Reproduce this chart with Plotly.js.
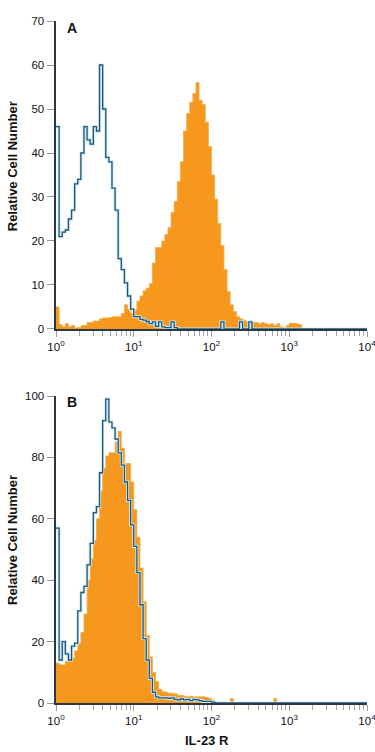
<!DOCTYPE html>
<html>
<head>
<meta charset="utf-8">
<script src="https://cdn.plot.ly/plotly-3.0.1.min.js"></script>
<style>
html,body{margin:0;padding:0;background:#fff;}
#chart{width:375px;height:752px;}
</style>
</head>
<body>
<div id="chart"></div>
<script>
// Histogram bins: 100 channels over 4 log decades (10^0 .. 10^4)
const binsPerDecade = 25;
const decades = 4;

// Panel A – isotype (blue outline) and IL-23 R stained (orange filled)
const isotypeA = [
  46, 21, 22, 22.5, 25, 27, 33, 34, 40, 46,
  43, 42, 46, 45, 60, 50, 39, 38, 32, 27,
  16, 13.5, 10.5, 7.5, 4.5, 2.8, 2.8, 2.2, 2, 1.7,
  1.2, 1.6, 0.6, 1.6, 0.5, 0.3, 0.3, 1.6, 0.3, 0,
  0, 0, 0, 0, 0, 0, 0, 0, 0, 0,
  0, 0, 0, 1.6, 0, 0, 0, 0, 0, 1.6,
  0, 0, 1.6, 0, 0, 0, 0, 0, 0, 0,
  0, 0, 0, 0, 0, 0, 0, 0, 0, 0,
  0, 0, 0, 0, 0, 0, 0, 0, 0, 0,
  0, 0, 0, 0, 0, 0, 0, 0, 0, 0
];
const stainedA = [
  5, 1.0, 0.5, 1.2, 0.5, 0.8, 0.3, 0.3, 0.8, 0.8,
  1.5, 1.5, 1.8, 1.8, 2.3, 2.5, 2.5, 2.6, 2.8, 2.8,
  2.8, 3.5, 5.5, 4.5, 3.6, 4.3, 6.3, 7.5, 8.7, 9.3,
  10.3, 15, 18.5, 18.5, 20, 21.5, 23, 26.5, 29, 33.5,
  38, 45, 49, 51.5, 53.5, 56, 52, 51, 47, 41.5,
  35, 29.5, 24, 19, 13.5, 8.5, 5.5, 4, 2.8, 2.3,
  2, 1.7, 1.6, 1.5, 1.5, 1.2, 1.5, 1.2, 1.0, 1.2,
  0.8, 1.2, 0.5, 0.3, 0.8, 1.3, 1.3, 1.2, 1.0, 0,
  0, 0, 0, 0, 0, 0, 0, 0, 0, 0,
  0, 0, 0, 0, 0, 0, 0, 0, 0, 0
];

// Panel B
const isotypeB = [
  57, 14, 20, 16, 14, 18.5, 19.5, 30, 36, 38,
  45, 52, 62, 64, 75, 92, 99, 91.5, 89.6, 86,
  81.5, 77.5, 72, 66, 58, 51, 42.5, 32, 21, 14,
  8, 3.5, 2, 1.7, 1.7, 1.7, 1.5, 1.7, 1.2, 1.0,
  1.3, 1.0, 1.2, 0.8, 1.2, 1.0, 0.8, 0.5, 0.5, 0.5,
  0.3, 0, 0, 0, 0, 0, 0, 0, 0, 0,
  0, 0, 0, 0, 0, 0, 0, 0, 0, 0,
  0, 0, 0, 0, 0, 0, 0, 0, 0, 0,
  0, 0, 0, 0, 0, 0, 0, 0, 0, 0,
  0, 0, 0, 0, 0, 0, 0, 0, 0, 0
];
const stainedB = [
  13, 12.5, 12.4, 13.5, 14, 14.6, 17, 19.5, 23, 29,
  40, 47, 53, 60, 69, 76.5, 80.5, 81.5, 81.5, 85,
  88.5, 83, 78, 78, 72, 63, 54, 44, 33, 22,
  15, 10, 7, 4.5, 3.7, 3.5, 3.2, 3.2, 3.0, 2.5,
  2.5, 2.2, 2.0, 2.2, 2.0, 2.0, 2.0, 2.0, 1.8, 1.5,
  1.0, 0, 0, 0, 0, 0, 1.5, 0, 0, 0,
  0, 0, 0, 0, 0, 0, 0, 0, 0, 0,
  1.5, 0, 0, 0, 0, 0, 0, 0, 0, 0,
  0, 0, 0, 0, 0, 0, 0, 0, 0, 0,
  0, 0, 0, 0, 0, 0, 0, 0, 0, 0
];

const decadeLabels = ['10<sup>0</sup>', '10<sup>1</sup>', '10<sup>2</sup>', '10<sup>3</sup>', '10<sup>4</sup>'];
const yTicksA = [0, 10, 20, 30, 40, 50, 60, 70];
const yTicksB = [0, 20, 40, 60, 80, 100];
const panelLabels = ['A', 'B'];
const xTitle = 'IL-23 R';
const yTitle = 'Relative Cell Number';

// bin edges on the log scale
const nBins = binsPerDecade * decades;
const edges = [];
for (let i = 0; i <= nBins; i++) edges.push(Math.pow(10, i / binsPerDecade));

function stepXY(counts) {
  const x = edges.slice();
  const y = counts.concat([counts[counts.length - 1]]);
  return {x, y};
}

const decadeVals = [];
const minorVals = [];
for (let d = 0; d <= decades; d++) {
  decadeVals.push(Math.pow(10, d));
  if (d < decades) for (let m = 2; m <= 9; m++) minorVals.push(m * Math.pow(10, d));
}

const ORANGE = '#F7981E';
const BLUE = '#1D5878';
const HALO = '#CFE9F5';

function panelTraces(stained, isotype, xa, ya) {
  const s = stepXY(stained), b = stepXY(isotype);
  return [
    {x: s.x, y: s.y, xaxis: xa, yaxis: ya, type: 'scatter', mode: 'lines',
     line: {shape: 'hv', color: '#E9B04A', width: 0.8}, fill: 'tozeroy', fillcolor: ORANGE,
     hoverinfo: 'skip', showlegend: false},
    {x: b.x, y: b.y, xaxis: xa, yaxis: ya, type: 'scatter', mode: 'lines',
     line: {shape: 'hv', color: HALO, width: 3}, hoverinfo: 'skip', showlegend: false},
    {x: b.x, y: b.y, xaxis: xa, yaxis: ya, type: 'scatter', mode: 'lines',
     line: {shape: 'hv', color: BLUE, width: 1.3}, hoverinfo: 'skip', showlegend: false}
  ];
}

const data = panelTraces(stainedA, isotypeA, 'x', 'y').concat(panelTraces(stainedB, isotypeB, 'x2', 'y2'));

const tickFont = {family: 'Liberation Sans, Arial, sans-serif', size: 11.5, color: '#111'};

function xAxis(anchor) {
  return {
    type: 'log', range: [0, decades], anchor: anchor,
    showgrid: false, zeroline: false,
    showline: true, linecolor: '#2B3742', linewidth: 2,
    tickmode: 'array', tickvals: decadeVals, ticktext: decadeLabels,
    ticks: 'outside', ticklen: 6, tickwidth: 1, tickcolor: '#9a9a9a',
    ticklabeloverflow: 'allow',
    minor: {tickmode: 'array', tickvals: minorVals, ticks: 'outside', ticklen: 5, tickwidth: 1, tickcolor: '#a5a5a5', showgrid: false},
    tickfont: tickFont, fixedrange: true
  };
}
function yAxis(anchor, domain, maxV, vals) {
  return {
    range: [0, maxV], domain: domain, anchor: anchor,
    showgrid: false, zeroline: false,
    showline: true, linecolor: '#2B3742', linewidth: 2.5,
    tickmode: 'array', tickvals: vals,
    ticks: 'outside', ticklen: 7, tickwidth: 1, tickcolor: '#9a9a9a',
    tickfont: tickFont, fixedrange: true
  };
}

const titleFont = {family: 'Liberation Sans, Arial, sans-serif', size: 13, color: '#111'};
const layout = {
  width: 375, height: 752,
  margin: {l: 56, r: 8, t: 21, b: 49},
  paper_bgcolor: '#fff', plot_bgcolor: '#fff',
  showlegend: false,
  xaxis: xAxis('y'),
  yaxis: yAxis('x', [0.5484, 1], 70, yTicksA),
  xaxis2: xAxis('y2'),
  yaxis2: yAxis('x2', [0, 0.4501], 100, yTicksB),
  annotations: [
    {text: '<b>' + panelLabels[0] + '</b>', xref: 'paper', yref: 'paper', x: 0.0514, y: 0.9897,
     xanchor: 'center', yanchor: 'middle', showarrow: false, font: {family: 'Liberation Sans, Arial, sans-serif', size: 14, color: '#111'}},
    {text: '<b>' + panelLabels[1] + '</b>', xref: 'paper', yref: 'paper', x: 0.0514, y: 0.4413,
     xanchor: 'center', yanchor: 'middle', showarrow: false, font: {family: 'Liberation Sans, Arial, sans-serif', size: 14, color: '#111'}},
    {text: '<b>' + yTitle + '</b>', xref: 'paper', yref: 'paper', x: -0.1415, y: 0.787,
     xanchor: 'center', yanchor: 'middle', textangle: -90, showarrow: false, font: titleFont},
    {text: '<b>' + yTitle + '</b>', xref: 'paper', yref: 'paper', x: -0.1415, y: 0.239,
     xanchor: 'center', yanchor: 'middle', textangle: -90, showarrow: false, font: titleFont},
    {text: '<b>' + xTitle + '</b>', xref: 'paper', yref: 'paper', x: 0.4855, y: -0.0543,
     xanchor: 'center', yanchor: 'middle', showarrow: false, font: {family: 'Liberation Sans, Arial, sans-serif', size: 13, color: '#111'}}
  ]
};

Plotly.newPlot('chart', data, layout, {displayModeBar: false, staticPlot: true});
</script>
</body>
</html>
